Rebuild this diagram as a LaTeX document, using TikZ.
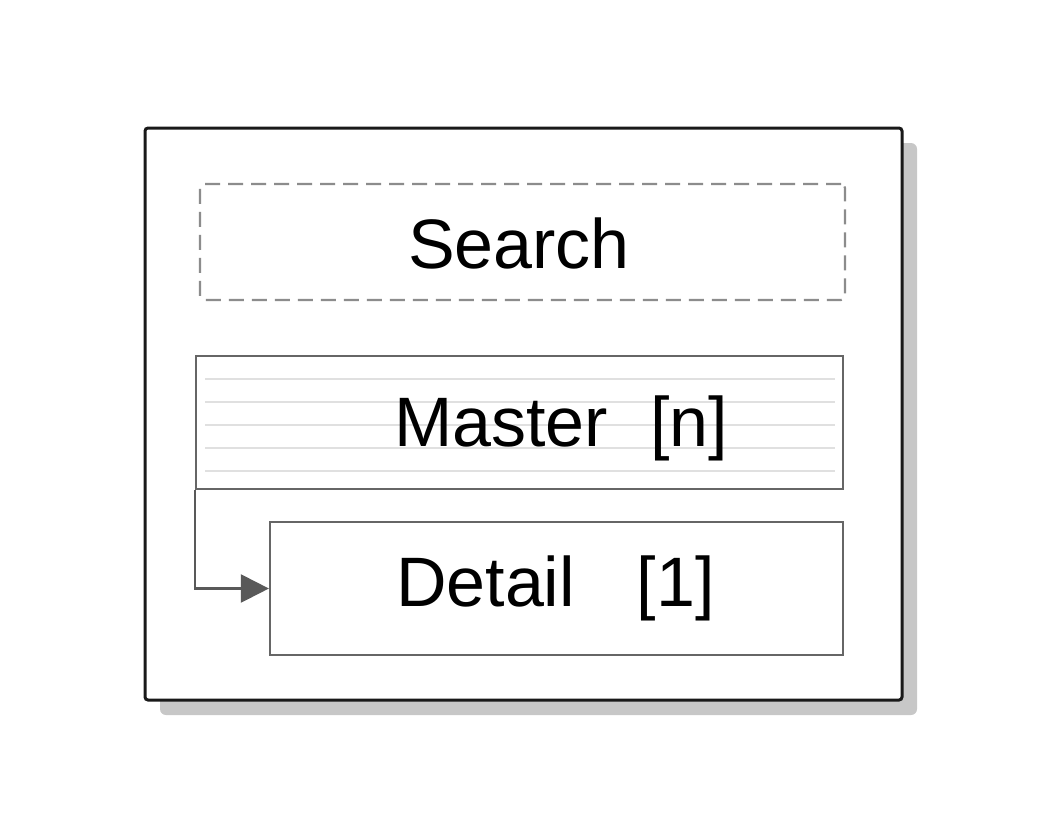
\documentclass[tikz,border=0pt]{standalone}
\usepackage{fontspec}
\setmainfont{Liberation Sans}
\usetikzlibrary{calc, arrows.meta}

\begin{document}
\begin{tikzpicture}[x=.5pt, y=-.5pt]
    \tikzstyle{panel} = [rectangle, draw=black!90, line width=1.5pt, rounded corners=1.5pt, fill=white, minimum width=378.5pt, minimum height=286pt, inner sep=0pt]
    \tikzstyle{shade} = [rectangle, fill=black!22, rounded corners=3pt, minimum width=378.5pt, minimum height=286pt, inner sep=0pt]
    \tikzstyle{searchbox} = [rectangle, draw=black!45, dashed, dash pattern=on 7.5pt off 4pt, line width=1.1pt, rounded corners=2pt, minimum width=322.5pt, minimum height=58pt, inner sep=0pt]
    \tikzstyle{gridbox} = [rectangle, draw=black!60, line width=1.1pt, minimum height=66.5pt, inner sep=0pt]
    \tikzstyle{label} = [font=\fontsize{35}{42}\selectfont, inner sep=0pt]
    \tikzstyle{flow} = [draw=black!65, line width=1.1pt, -{Triangle[length=14pt, width=14pt]}]

    \useasboundingbox (0, 0) rectangle (1044, 832);

    % Frame ---------------------------------------------
    \node (shadow) at ($(523.5, 414) + (15, 15)$) [shade] {};
    \node (frame) at (523.5, 414) [panel] {};
    % ---------------------------------------------------

    % Search ------------------------------------------
    \node (search) at (522.5, 242) [searchbox] {};
    \node (searchlabel) at (519, 243) [label] {Search};

    % Master --------------------------------------------
    \node (master) at (519.5, 422.5) [gridbox, minimum width=323.5pt] {};
    \foreach \y in {379, 402, 425, 448, 471}
        \draw[black!12, line width=1.4pt] (205, \y) -- (835, \y);
    \node (masterlabel) at (561, 428) [label] {Master\hspace{21pt}[n]};

    % Detail --------------------------------------------
    \node (detail) at (556.5, 588.5) [gridbox, minimum width=286.5pt] {};
    \node (detaillabel) at (555.5, 588) [label] {Detail\hspace{31pt}[1]};

    \draw [flow] (master.south west) |- (detail.west);
\end{tikzpicture}
\end{document}
